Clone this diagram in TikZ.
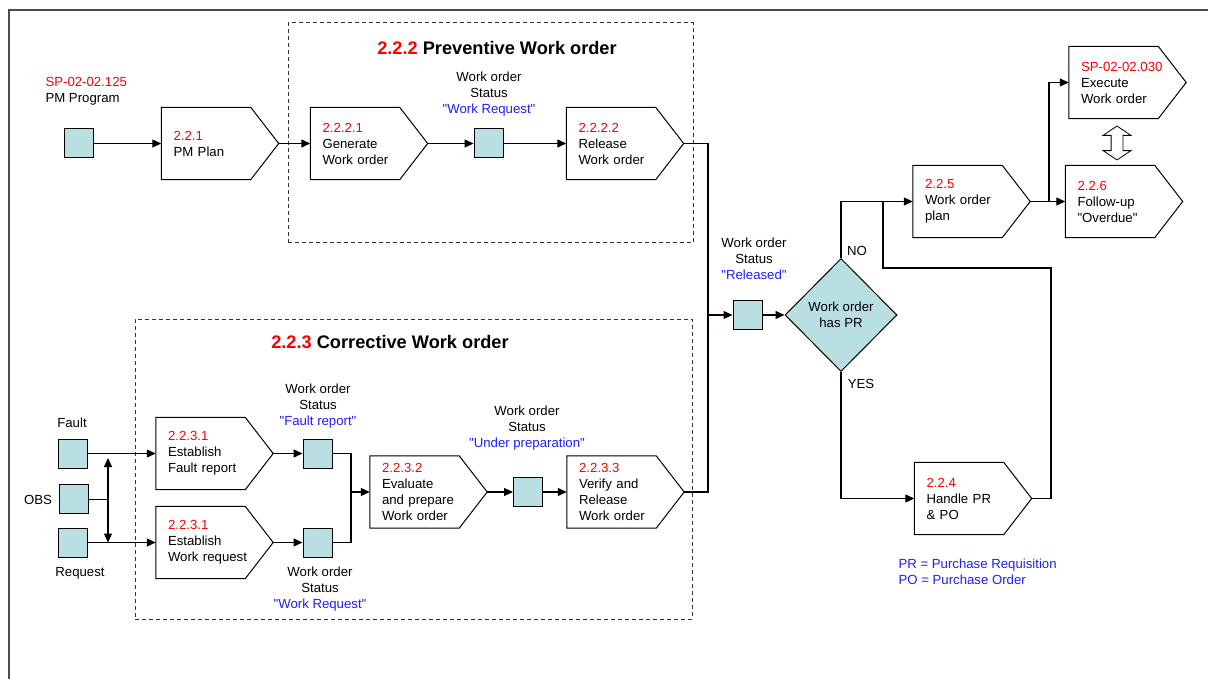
\documentclass[tikz,border=0pt]{standalone}
\usepackage{fontspec}
\setmainfont{Liberation Sans}
\usepackage{xcolor}
\usetikzlibrary{positioning, arrows.meta, shapes.geometric, shapes.arrows}

\definecolor{statfill}{RGB}{185,223,227}
\definecolor{idred}{RGB}{255,0,0}
\definecolor{stblue}{RGB}{30,30,255}
\newcommand{\idtxt}[1]{\textcolor{idred}{#1}}
\newcommand{\sttxt}[1]{\textcolor{stblue}{\textquotedbl#1\textquotedbl}}
\newcommand{\bodyfont}{\fontsize{13.2}{16}\selectfont}

\begin{document}
\begin{tikzpicture}[
    x=1pt, y=-1pt,
    proc/.style={rectangle, minimum width=117, minimum height=72, text width=93, inner xsep=12, inner ysep=2, align=left, font=\bodyfont,
      append after command={\pgfextra{\draw[line width=1pt] (\tikzlastnode.north west) -- ([xshift=-28]\tikzlastnode.north east) -- (\tikzlastnode.east) -- ([xshift=-28]\tikzlastnode.south east) -- (\tikzlastnode.south west) -- cycle;}}},
    stat/.style={rectangle, draw, line width=1pt, fill=statfill, minimum size=29, inner sep=0},
    lbl/.style={align=center, font=\bodyfont},
    grp/.style={rectangle, draw=black!80, dash pattern=on 4pt off 3pt, line width=1pt, inner sep=0},
    ttl/.style={font=\fontsize{18.2}{20}\selectfont\bfseries},
    dblarr/.style={double arrow, draw, line width=0.8pt, fill=white, rotate=90, minimum height=34, inner xsep=0, inner ysep=5.5pt, double arrow head extend=8pt, double arrow tip angle=112},
    arr/.style={-{Triangle[length=9pt, width=8pt]}, line width=1.2pt},
    line/.style={line width=1.2pt},
]
\useasboundingbox (0,0) rectangle (1208,679);
\draw[line width=1.5pt, black!70] (9,679) -- (9,10) -- (1208,10);

% groups
\node[grp, minimum width=405, minimum height=220] (prevgrp) at (490.5,133) {};
\node[grp, minimum width=557, minimum height=300] (corrgrp) at (413.5,469) {};
\node[ttl] (prevttl) at (497,48) {\idtxt{2.2.2} Preventive Work order};
\node[ttl] (corrttl) at (390,342) {\idtxt{2.2.3} Corrective Work order};

% preventive row
\node[lbl, align=left, anchor=west] (pmprog) at (42,91) {\idtxt{SP-02-02.125}\\PM Program};
\node[stat] (pmsq) at (78.5,143.5) {};
\node[proc] (pmplan) at (220,143.5) {\idtxt{2.2.1}\\PM Plan};
\node[proc] (gen) at (369,143.5) {\idtxt{2.2.2.1}\\Generate\\Work order};
\node[lbl] (wrst) at (489,94) {Work order\\Status\\\sttxt{Work Request}};
\node[stat] (wrsq) at (488.5,143.5) {};
\node[proc] (rel) at (625,143.5) {\idtxt{2.2.2.2}\\Release\\Work order};

% decision
\node[lbl] (relst) at (754,259) {Work order\\Status\\\sttxt{Released}};
\node[stat] (relsq) at (747.5,315) {};
\node[diamond, draw, line width=1pt, fill=statfill, aspect=1, minimum width=112, minimum height=113, inner sep=0, align=center, font=\bodyfont] (hasPR) at (841,315) {Work order\\has PR};
\node[lbl] (nolbl) at (857,251) {NO};
\node[lbl] (yeslbl) at (861,384) {YES};

% right side
\node[proc] (plan) at (971.5,201.5) {\idtxt{2.2.5}\\Work order\\plan};
\node[proc] (exe) at (1127.5,82.5) {\idtxt{SP-02-02.030}\\Execute\\Work order};
\node[proc] (fol) at (1124,201.5) {\idtxt{2.2.6}\\Follow-up\\\textquotedbl Overdue\textquotedbl};
\node[dblarr] (swap) at (1117,143) {};
\node[proc] (hpr) at (973,498.5) {\idtxt{2.2.4}\\Handle PR\\\& PO};
\node[lbl, align=left, anchor=west, text=stblue] (legend) at (895,572) {PR = Purchase Requisition\\PO = Purchase Order};

% corrective row
\node[lbl] (fltlbl) at (72,423) {Fault};
\node[stat] (fsq) at (73,453.5) {};
\node[lbl] (obslbl) at (38,500) {OBS};
\node[stat] (osq) at (73.5,499) {};
\node[stat] (rsq) at (73,542.5) {};
\node[lbl] (reqlbl) at (80,573) {Request};
\node[proc] (flt) at (214.5,453.5) {\idtxt{2.2.3.1}\\Establish\\Fault report};
\node[proc] (req) at (214.5,542.5) {\idtxt{2.2.3.1}\\Establish\\Work request};
\node[lbl] (frst) at (318,406) {Work order\\Status\\\sttxt{Fault report}};
\node[stat] (frsq) at (317.5,453.5) {};
\node[stat] (wqsq) at (317.5,542.5) {};
\node[lbl] (wqst) at (320,589) {Work order\\Status\\\sttxt{Work Request}};
\node[proc] (eva) at (428.5,492) {\idtxt{2.2.3.2}\\Evaluate\\and prepare\\Work order};
\node[lbl] (upst) at (527,428) {Work order\\Status\\\sttxt{Under preparation}};
\node[stat] (upsq) at (528,492) {};
\node[proc] (ver) at (625.5,492) {\idtxt{2.2.3.3}\\Verify and\\Release\\Work order};

% connectors
\draw[arr] (pmsq) -- (pmplan);
\draw[arr] (pmplan) -- (gen);
\draw[arr] (gen) -- (wrsq);
\draw[arr] (wrsq) -- (rel);
\coordinate (relin) at (708,315);
\draw[line] (rel.east) -| (relin);
\draw[line] (ver.east) -| (relin);
\draw[arr] (relin) -- (relsq);
\draw[arr] (relsq) -- (hasPR);
\draw[arr] (hasPR.north) |- (plan.west);
\draw[arr] (hasPR.south) |- (hpr.west);
\coordinate (loopc) at (1051,268);
\coordinate (loopin) at (883,201.5);
\draw[line] (hpr.east) -| (loopc) -| (loopin);
\draw[arr] (plan) -- (fol);
\coordinate (exesplit) at (1049,201.5);
\draw[arr] (exesplit) |- (exe.west);

\draw[arr] (fsq) -- (flt);
\draw[arr] (rsq) -- (req);
\coordinate (ftap) at (108,458);
\coordinate (otap) at (108,499);
\coordinate (rtap) at (108,542.5);
\draw[line, {Triangle[length=9pt, width=8pt]}-{Triangle[length=9pt, width=8pt]}] (ftap) -- (rtap);
\draw[line width=1pt] (osq) -- (otap);
\draw[arr] (flt) -- (frsq);
\draw[arr] (req) -- (wqsq);
\coordinate (mrg) at (351,492);
\draw[line] (frsq.east) -| (mrg);
\draw[line] (wqsq.east) -| (mrg);
\draw[arr] (mrg) -- (eva);
\draw[arr] (eva) -- (upsq);
\draw[arr] (upsq) -- (ver);
\end{tikzpicture}
\end{document}
